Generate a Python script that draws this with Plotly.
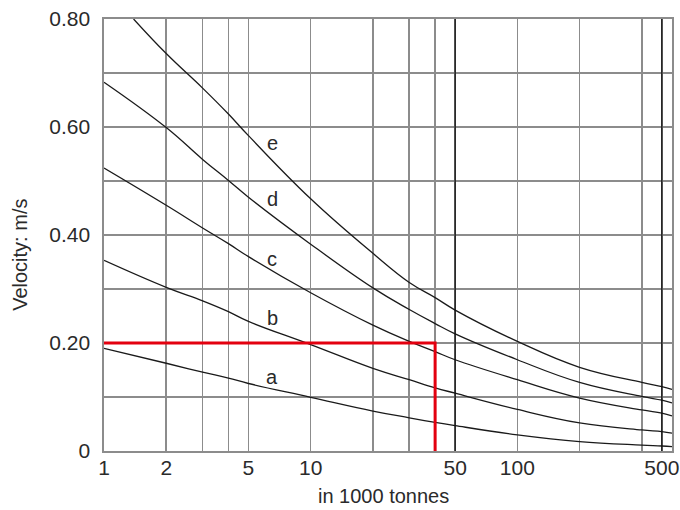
import math
import plotly.graph_objects as go

# ---- data ----
x_vals = [1, 2, 3, 4, 5, 10, 20, 30, 40, 50, 100, 200, 400, 500, 560]
curve_a = [0.190, 0.1625, 0.146, 0.135, 0.125, 0.0995, 0.074, 0.0615, 0.053, 0.047, 0.030, 0.0175, 0.011, 0.0093, 0.008]
curve_b = [0.353, 0.303, 0.278, 0.258, 0.240, 0.197, 0.153, 0.132, 0.117, 0.107, 0.077, 0.052, 0.039, 0.036, 0.033]
curve_c = [0.524, 0.455, 0.413, 0.384, 0.360, 0.293, 0.233, 0.203, 0.184, 0.169, 0.132, 0.098, 0.076, 0.070, 0.065]
curve_d = [0.683, 0.599, 0.540, 0.501, 0.470, 0.383, 0.302, 0.262, 0.236, 0.217, 0.169, 0.127, 0.101, 0.094, 0.089]
x_e = [1.39, 2, 3, 4, 5, 10, 20, 30, 40, 50, 100, 200, 400, 500, 560]
curve_e = [0.80, 0.736, 0.672, 0.624, 0.584, 0.467, 0.366, 0.312, 0.284, 0.261, 0.203, 0.155, 0.127, 0.119, 0.114]

curve_names = ["a", "b", "c", "d", "e"]
label_x = 6.5
label_y = [0.1366, 0.246, 0.355, 0.467, 0.570]

red_x = [1, 40, 40]
red_y = [0.20, 0.20, 0.0]

x_grid_vals = [1, 2, 3, 4, 5, 10, 20, 30, 40, 50, 100, 200, 400, 500]
x_labels = {1: "1", 2: "2", 5: "5", 10: "10", 50: "50", 100: "100", 500: "500"}
dark_x_lines = [50, 500]
y_grid_vals = [0, 0.1, 0.2, 0.3, 0.4, 0.5, 0.6, 0.7, 0.8]
y_labels = {0: "0", 0.2: "0.20", 0.4: "0.40", 0.6: "0.60", 0.8: "0.80"}
x_max = 560

GRID = "#8c8c8c"
FONT = "Liberation Sans, Arial, sans-serif"
TXT = "#2a2a2a"

fig = go.Figure()
series = [(x_vals, curve_a), (x_vals, curve_b), (x_vals, curve_c), (x_vals, curve_d), (x_e, curve_e)]
for (xs, ys), name in zip(series, curve_names):
    fig.add_trace(go.Scatter(x=xs, y=ys, mode="lines", name=name,
                             line=dict(color="#1a1a1a", width=1.3, shape="spline", smoothing=1.2),
                             hoverinfo="skip", showlegend=False))

fig.add_trace(go.Scatter(x=red_x, y=red_y, mode="lines",
                         line=dict(color="#e3000f", width=3), showlegend=False, hoverinfo="skip"))

# darker grid lines at 50 and 500
for xv in dark_x_lines:
    fig.add_shape(type="line", xref="x", yref="paper", x0=xv, x1=xv,
                  y0=0, y1=1, line=dict(color="#111111", width=1.3), layer="above")

for name, ly in zip(curve_names, label_y):
    fig.add_annotation(x=math.log10(label_x), y=ly, text=name, showarrow=False,
                       font=dict(family=FONT, size=20, color=TXT), xanchor="center", yanchor="middle")

fig.add_annotation(xref="paper", yref="paper", x=-0.148, y=0.454, text="Velocity: m/s",
                   textangle=-90, showarrow=False, font=dict(family=FONT, size=20, color=TXT),
                   xanchor="center", yanchor="middle")
fig.add_annotation(xref="paper", yref="paper", x=0.4924, y=-0.104, text="in 1000 tonnes",
                   showarrow=False, font=dict(family=FONT, size=20, color=TXT),
                   xanchor="center", yanchor="middle")

fig.update_xaxes(type="log", range=[0, math.log10(x_max)], automargin=False,
                 tickvals=x_grid_vals, ticktext=[x_labels.get(v, "") for v in x_grid_vals],
                 showgrid=True, gridcolor=GRID, gridwidth=1.6,
                 showline=True, linecolor=GRID, linewidth=1.6, mirror=True,
                 ticks="", ticklabelstandoff=-3, ticklabeloverflow="allow",
                 tickfont=dict(family=FONT, size=21, color=TXT), zeroline=False)
fig.update_yaxes(range=[0, 0.8], automargin=False,
                 tickvals=y_grid_vals, ticktext=[y_labels.get(round(v, 1), "") for v in y_grid_vals],
                 showgrid=True, gridcolor=GRID, gridwidth=1.6,
                 showline=True, linecolor=GRID, linewidth=1.6, mirror=True,
                 ticks="", ticklabelstandoff=8, ticklabeloverflow="allow",
                 tickfont=dict(family=FONT, size=21, color=TXT), zeroline=False)

fig.update_layout(width=680, height=510, margin=dict(l=104, r=8, t=19, b=59),
                  paper_bgcolor="white", plot_bgcolor="white")

fig.write_html(
    "out.html",
    config={"displayModeBar": False, "staticPlot": True},
    post_script=(
        "document.body.style.margin='0';"
        "document.body.style.overflow='hidden';"
        "document.documentElement.style.overflow='hidden';"
    ),
)
